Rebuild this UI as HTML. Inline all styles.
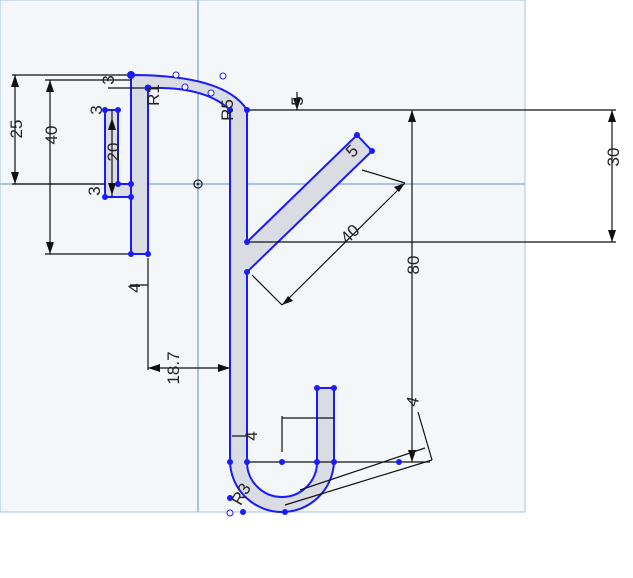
<!DOCTYPE html>
<html><head><style>body{margin:0;background:#fff}svg{display:block}text{font-family:"Liberation Sans",sans-serif;font-size:17px;fill:#222}</style></head><body>
<svg width="633" height="578" viewBox="0 0 633 578" xmlns="http://www.w3.org/2000/svg">
<rect x="0" y="0" width="525" height="512" fill="#f3f7fa" stroke="#a9c0dc" stroke-width="1"/>
<line x1="198" y1="0" x2="198" y2="512" stroke="#8fb0d8" stroke-width="1.5"/>
<line x1="0" y1="184" x2="525" y2="184" stroke="#8fb0d8" stroke-width="1.5"/>
<circle cx="198" cy="184" r="4" fill="none" stroke="#222" stroke-width="1.3"/><circle cx="198" cy="184" r="1.3" fill="#222"/>
<g fill="#d9dce3" stroke="#1a1aff" stroke-width="2">
<path d="M131,75 L131,254 L148,254 L148,88 Q205,86 230,110 L230,462 A52,52 0 0 0 282,512 A52,52 0 0 0 334,462 L334,388 L317,388 L317,462 A35,35 0 0 1 247,462 L247,272 L372,151 L357,135 L247,242 L247,110 Q225,75 131,75 Z"/>
<path d="M105,110 L118,110 L118,184 L131,184 L131,197 L105,197 Z"/>
</g>
<g stroke="#111" stroke-width="1.2" fill="none">
<line x1="12" y1="75" x2="131" y2="75"/><line x1="12" y1="184" x2="105" y2="184"/>
<line x1="15" y1="75" x2="15" y2="184"/>
<line x1="45" y1="80" x2="131" y2="80"/><line x1="45" y1="254" x2="131" y2="254"/>
<line x1="50" y1="80" x2="50" y2="254"/>
<line x1="108" y1="88" x2="148" y2="88"/>
<line x1="112" y1="110" x2="112" y2="197"/>
<line x1="247" y1="110" x2="616" y2="110"/><line x1="247" y1="242" x2="616" y2="242"/>
<line x1="612" y1="110" x2="612" y2="242"/>
<line x1="297" y1="92" x2="297" y2="110"/>
<line x1="412" y1="110" x2="412" y2="462"/>
<line x1="247" y1="462" x2="430" y2="462"/>
<line x1="362" y1="170" x2="405" y2="183"/><line x1="405" y1="183" x2="282" y2="305"/>
<line x1="252" y1="275" x2="282" y2="305"/>
<line x1="148" y1="258" x2="148" y2="370"/><line x1="148" y1="368" x2="230" y2="368"/>
<line x1="130" y1="285" x2="148" y2="285"/>
<line x1="232" y1="436" x2="247" y2="436"/>
<line x1="282" y1="416" x2="282" y2="452"/><line x1="282" y1="418" x2="334" y2="418"/>
<line x1="285" y1="505" x2="432" y2="460"/><line x1="300" y1="490" x2="425" y2="448"/>
<line x1="418" y1="412" x2="432" y2="460"/>
</g>
<g fill="#111">
<path d="M15,75 l-4,12 h8z M15,184 l-4,-12 h8z M50,80 l-4,12 h8z M50,254 l-4,-12 h8z"/>
<path d="M612,110 l-4,12 h8z M612,242 l-4,-12 h8z M412,110 l-4,12 h8z M412,462 l-4,-12 h8z"/>
<path d="M405,183 l-11,4 l5,5z M282,305 l11,-4 l-5,-5z M148,368 l12,-4 v8z M230,368 l-12,-4 v8z"/>
<path d="M112,118 l-4,12 h8z M112,195 l-4,-12 h8z M297,110 l-4,-12 h8z"/>
</g>
<g fill="#1a1aff">
<circle cx="131" cy="75" r="4"/><circle cx="148" cy="88" r="3.5"/><circle cx="131" cy="254" r="3"/><circle cx="148" cy="254" r="3"/>
<circle cx="105" cy="110" r="3"/><circle cx="118" cy="110" r="3"/><circle cx="118" cy="184" r="3"/><circle cx="131" cy="184" r="3"/><circle cx="105" cy="197" r="3"/><circle cx="131" cy="197" r="3"/>
<circle cx="230" cy="110" r="3"/><circle cx="247" cy="110" r="3"/><circle cx="247" cy="242" r="3"/><circle cx="247" cy="272" r="3"/>
<circle cx="357" cy="135" r="3"/><circle cx="372" cy="151" r="3"/>
<circle cx="317" cy="388" r="3"/><circle cx="334" cy="388" r="3"/>
<circle cx="230" cy="462" r="3"/><circle cx="247" cy="462" r="3"/><circle cx="282" cy="462" r="3"/><circle cx="317" cy="462" r="3"/><circle cx="334" cy="462" r="3"/><circle cx="399" cy="462" r="3"/>
<circle cx="243" cy="512" r="3"/><circle cx="285" cy="512" r="3"/><circle cx="230" cy="498" r="3"/>
</g>
<g fill="#fff" stroke="#1a1aff"><circle cx="176" cy="75" r="3"/><circle cx="185" cy="87" r="3"/><circle cx="223" cy="76" r="3"/><circle cx="211" cy="93" r="3"/><circle cx="230" cy="513" r="3"/></g>
<g>
<text transform="translate(22,129) rotate(-90)" text-anchor="middle">25</text>
<text transform="translate(57,135) rotate(-90)" text-anchor="middle">40</text>
<text transform="translate(119,152) rotate(-90)" text-anchor="middle">20</text>
<text transform="translate(619,157) rotate(-90)" text-anchor="middle">30</text>
<text transform="translate(419,265) rotate(-90)" text-anchor="middle">80</text>
<text transform="translate(179,368) rotate(-90)" text-anchor="middle">18.7</text>
<text transform="translate(354,238) rotate(-45)" text-anchor="middle">40</text>
<text transform="translate(114,80) rotate(-90)" text-anchor="middle">3</text>
<text transform="translate(102,110) rotate(-90)" text-anchor="middle">3</text>
<text transform="translate(100,191) rotate(-90)" text-anchor="middle">3</text>
<text transform="translate(303,101) rotate(-90)" text-anchor="middle">5</text>
<text transform="translate(159,95) rotate(-90)" text-anchor="middle">R1</text>
<text transform="translate(233,110) rotate(-90)" text-anchor="middle">R5</text>
<text transform="translate(356,155) rotate(-45)" text-anchor="middle">5</text>
<text transform="translate(257,436) rotate(-90)" text-anchor="middle">4</text>
<text transform="translate(140,288) rotate(-90)" text-anchor="middle">4</text>
<text transform="translate(418,403) rotate(-75)" text-anchor="middle">4</text>
<text transform="translate(246,497) rotate(-60)" text-anchor="middle">R3</text>
</g>
</svg>
</body></html>
